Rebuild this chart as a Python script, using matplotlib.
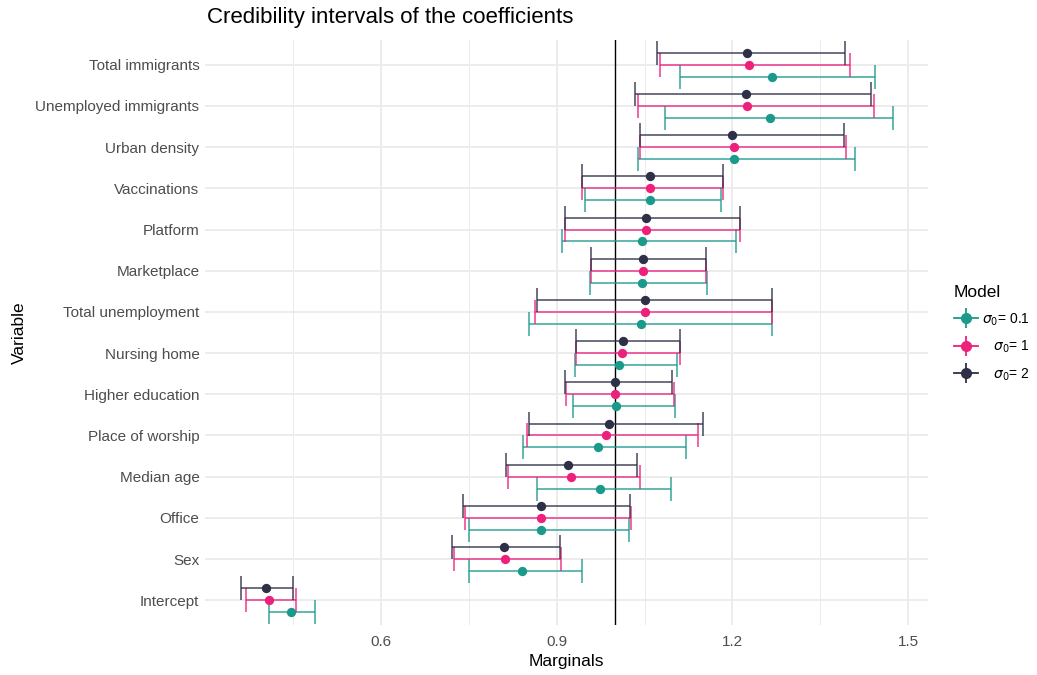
import matplotlib.pyplot as plt
from matplotlib.lines import Line2D
from matplotlib.legend_handler import HandlerTuple
import numpy as np

plt.rcParams['font.family'] = ['Liberation Sans', 'DejaVu Sans']

# variables, from top to bottom
variables = ['Total immigrants', 'Unemployed immigrants', 'Urban density', 'Vaccinations',
             'Platform', 'Marketplace', 'Total unemployment', 'Nursing home',
             'Higher education', 'Place of worship', 'Median age', 'Office', 'Sex', 'Intercept']

# sigma_0 = 0.1
mid_01 = [1.267, 1.265, 1.202, 1.059, 1.046, 1.046, 1.044, 1.007, 1.001, 0.970, 0.974, 0.874, 0.841, 0.446]
lo_01 = [1.110, 1.085, 1.039, 0.948, 0.909, 0.957, 0.853, 0.931, 0.927, 0.842, 0.866, 0.750, 0.751, 0.409]
hi_01 = [1.444, 1.475, 1.410, 1.180, 1.206, 1.157, 1.268, 1.106, 1.102, 1.121, 1.095, 1.023, 0.944, 0.487]

# sigma_0 = 1
mid_1 = [1.228, 1.225, 1.202, 1.059, 1.052, 1.047, 1.050, 1.012, 0.999, 0.984, 0.924, 0.874, 0.812, 0.409]
lo_1 = [1.076, 1.039, 1.043, 0.943, 0.914, 0.959, 0.863, 0.933, 0.916, 0.850, 0.817, 0.743, 0.724, 0.369]
hi_1 = [1.400, 1.442, 1.394, 1.184, 1.213, 1.155, 1.268, 1.110, 1.100, 1.142, 1.043, 1.027, 0.907, 0.455]

# sigma_0 = 2
mid_2 = [1.225, 1.223, 1.200, 1.059, 1.052, 1.047, 1.050, 1.014, 0.999, 0.989, 0.919, 0.873, 0.810, 0.403]
lo_2 = [1.072, 1.034, 1.043, 0.943, 0.914, 0.959, 0.866, 0.933, 0.914, 0.853, 0.813, 0.740, 0.722, 0.361]
hi_2 = [1.393, 1.437, 1.391, 1.184, 1.213, 1.155, 1.268, 1.110, 1.097, 1.149, 1.037, 1.026, 0.905, 0.450]

models = [
    (r'$\sigma_0$= 0.1', mid_01, lo_01, hi_01, '#1B998B', -0.29),
    (r'   $\sigma_0$= 1', mid_1, lo_1, hi_1, '#ED217C', 0.0),
    (r'   $\sigma_0$= 2', mid_2, lo_2, hi_2, '#2D3047', 0.29),
]

fig = plt.figure(figsize=(10.37, 6.75), dpi=100)
ax = fig.add_axes([205 / 1037, 1 - 625 / 675, (928 - 205) / 1037, (625 - 40) / 675])

ypos = np.arange(len(variables))[::-1]  # top variable gets the largest position

handles = []
labels = []
for lab, mid, lo, hi, col, off in models:
    mid = np.array(mid)
    lo = np.array(lo)
    hi = np.array(hi)
    y = ypos + off
    ax.errorbar(mid, y, xerr=[mid - lo, hi - mid], fmt='none', ecolor=col, alpha=0.75,
                elinewidth=1.3, capsize=8.5, capthick=1.3, zorder=3)
    ax.scatter(mid, y, s=45, color=col, zorder=4, linewidths=0)
    h = (Line2D([], [], color=col, lw=1.3, marker='|', markersize=14, markeredgewidth=1.3),
         Line2D([], [], color=col, marker='o', linestyle='none', markersize=7))
    handles.append(h)
    labels.append(lab)

ax.axvline(1.0, color='black', lw=1.0, zorder=2)

ax.set_xlim(0.2995, 1.534)
ax.set_ylim(-0.6, len(variables) - 0.4)
ax.set_xticks([0.6, 0.9, 1.2, 1.5])
ax.set_xticklabels(['0.6', '0.9', '1.2', '1.5'])
ax.set_xticks([0.45, 0.75, 1.05, 1.35], minor=True)
ax.set_yticks(ypos)
ax.set_yticklabels(variables)

ax.grid(True, which='major', color='#ebebeb', lw=1.3, zorder=0)
ax.grid(True, which='minor', axis='x', color='#ebebeb', lw=0.7, zorder=0)
ax.set_axisbelow(True)
for s in ax.spines.values():
    s.set_visible(False)
ax.tick_params(which='both', length=0)
ax.tick_params(axis='y', labelsize=11, labelcolor='#4d4d4d', pad=4)
ax.tick_params(axis='x', labelsize=11, labelcolor='#4d4d4d', pad=7)

ax.set_xlabel('Marginals', fontsize=12.5, labelpad=4)
ax.set_ylabel('Variable', fontsize=12.5, labelpad=6)
fig.text(207 / 1037, 1 - 18 / 675, 'Credibility intervals of the coefficients',
         fontsize=16, ha='left', va='center')

leg = fig.legend(handles, labels, handler_map={tuple: HandlerTuple(ndivide=1)},
                 title='Model', loc='upper left', bbox_to_anchor=(943 / 1037, 1 - 274 / 675),
                 frameon=False, fontsize=10, title_fontsize=12.5, handlelength=1.7,
                 handletextpad=0.3, labelspacing=0.8, borderpad=0.3)
leg._legend_box.align = 'left'

fig.savefig('out.png', dpi=100)
